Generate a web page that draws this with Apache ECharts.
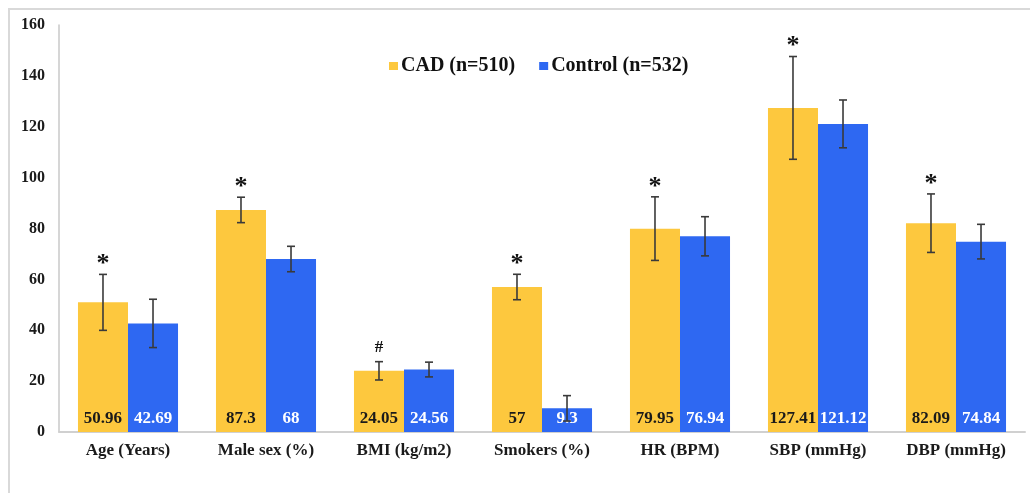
<!DOCTYPE html>
<html>
<head>
<meta charset="utf-8">
<script src="https://cdn.jsdelivr.net/npm/echarts@6/dist/echarts.min.js"></script>
<style>
  html, body { margin: 0; padding: 0; background: #ffffff; }
  #chart { width: 1030px; height: 493px; }
</style>
</head>
<body>
<div id="chart"></div>
<script>
// Baseline characteristics, CAD vs control (mean ± SD, or %)
const categories = ['Age (Years)', 'Male sex (%)', 'BMI (kg/m2)', 'Smokers (%)', 'HR (BPM)', 'SBP (mmHg)', 'DBP (mmHg)'];
const cadValues = [50.96, 87.3, 24.05, 57, 79.95, 127.41, 82.09];
const controlValues = [42.69, 68, 24.56, 9.3, 76.94, 121.12, 74.84];
const cadSD = [11.0, 5.0, 3.6, 5.0, 12.5, 20.2, 11.5];
const controlSD = [9.5, 5.0, 2.9, 5.0, 7.7, 9.4, 6.8];
const cadMarks = ['*', '*', '#', '*', '*', '*', '*'];
const yTicks = [0, 20, 40, 60, 80, 100, 120, 140, 160];

const CAD_COLOR = '#FDC83E';
const CONTROL_COLOR = '#2E68F2';
const SERIF = '"Liberation Serif", "Times New Roman", serif';
const CATEGORY_GAP = 0.275;

const chart = echarts.init(document.getElementById('chart'));

// Error bars (and significance marks) drawn over one bar of each pair
function errorBarSeries(values, sds, side, marks) {
  return {
    type: 'custom',
    z: 10,
    data: values.map((v, i) => [i, v, sds[i]]),
    encode: { x: 0, y: 1 },
    renderItem: function (params, api) {
      const i = api.value(0);
      const v = api.value(1);
      const sd = api.value(2);
      const band = api.size([1, 0])[0];
      const bw = band * (1 - CATEGORY_GAP) / 2;
      const cx = api.coord([i, v])[0] + side * bw / 2;
      const yTop = api.coord([i, v + sd])[1];
      const yBot = api.coord([i, v - sd])[1];
      const cap = 4;
      const stroke = { stroke: '#3a3a3a', lineWidth: 1.6 };
      const children = [
        { type: 'line', shape: { x1: cx, y1: yTop, x2: cx, y2: yBot }, style: stroke },
        { type: 'line', shape: { x1: cx - cap, y1: yTop, x2: cx + cap, y2: yTop }, style: stroke },
        { type: 'line', shape: { x1: cx - cap, y1: yBot, x2: cx + cap, y2: yBot }, style: stroke }
      ];
      if (marks && marks[params.dataIndex]) {
        const m = marks[params.dataIndex];
        children.push({
          type: 'text',
          style: {
            text: m,
            x: cx,
            y: m === '*' ? yTop + 3 : yTop - 6,
            align: 'center',
            verticalAlign: 'bottom',
            fill: '#111',
            font: m === '*' ? 'bold 26px ' + SERIF : 'bold 17px ' + SERIF
          }
        });
      }
      return { type: 'group', children: children };
    }
  };
}

chart.setOption({
  animation: false,
  backgroundColor: '#ffffff',
  graphic: [{
    type: 'rect',
    shape: { x: 9, y: 9, width: 1100, height: 600 },
    style: { fill: 'none', stroke: '#d9d9d9', lineWidth: 2 },
    silent: true
  }],
  grid: { left: 59, right: 5, top: 25, bottom: 61 },
  legend: {
    left: 384,
    top: 51,
    itemWidth: 9,
    itemHeight: 8,
    itemGap: 24,
    icon: 'rect',
    textStyle: { fontFamily: SERIF, fontWeight: 'bold', fontSize: 20, color: '#111', padding: [0, 0, 0, -2] },
    data: ['CAD (n=510)', 'Control (n=532)']
  },
  xAxis: {
    type: 'category',
    data: categories,
    axisLine: { lineStyle: { color: '#d0d0d0', width: 2 } },
    axisTick: { show: false },
    axisLabel: { fontFamily: SERIF, fontWeight: 'bold', fontSize: 17, color: '#1a1a1a', margin: 10 }
  },
  yAxis: {
    type: 'value',
    min: yTicks[0],
    max: yTicks[yTicks.length - 1],
    interval: yTicks[1] - yTicks[0],
    axisLine: { show: true, lineStyle: { color: '#c8c8c8', width: 1.5 } },
    axisTick: { show: false },
    splitLine: { show: false },
    axisLabel: { fontFamily: SERIF, fontWeight: 'bold', fontSize: 16, color: '#1a1a1a', margin: 14 }
  },
  series: [
    {
      name: 'CAD (n=510)',
      type: 'bar',
      data: cadValues,
      barGap: '0%',
      barCategoryGap: (CATEGORY_GAP * 100) + '%',
      itemStyle: { color: CAD_COLOR },
      label: {
        show: true, position: 'insideBottom', distance: 5,
        fontFamily: SERIF, fontWeight: 'bold', fontSize: 17, color: '#1a1a1a'
      }
    },
    {
      name: 'Control (n=532)',
      type: 'bar',
      data: controlValues,
      barGap: '0%',
      barCategoryGap: (CATEGORY_GAP * 100) + '%',
      itemStyle: { color: CONTROL_COLOR },
      label: {
        show: true, position: 'insideBottom', distance: 5,
        fontFamily: SERIF, fontWeight: 'bold', fontSize: 17, color: '#ffffff'
      }
    },
    errorBarSeries(cadValues, cadSD, -1, cadMarks),
    errorBarSeries(controlValues, controlSD, 1, null)
  ]
});
</script>
</body>
</html>
